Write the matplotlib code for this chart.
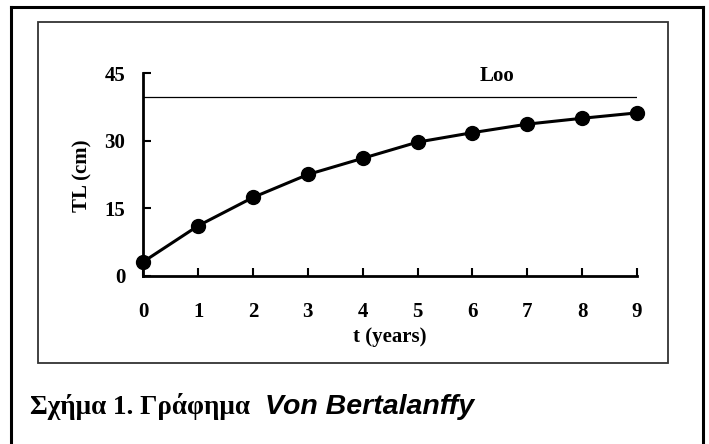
import matplotlib.pyplot as plt
from matplotlib.lines import Line2D
from matplotlib.patches import Rectangle

# data
t_years = [0, 1, 2, 3, 4, 5, 6, 7, 8, 9]
tl_cm = [3.1, 11.1, 17.4, 22.5, 26.1, 29.7, 31.8, 33.7, 35.0, 36.2]
l_inf = 39.7
y_ticks = [0, 15, 30, 45]

W, H = 709, 444
fig = plt.figure(figsize=(W / 100, H / 100), dpi=100)


def px(x, y):
    # pixel coords (top-left origin) -> figure fraction
    return x / W, 1 - y / H


# outer border (top, left, right)
for xs, ys in [([11, 703], [7, 7]), ([11, 11], [7, 444]), ([703, 703], [7, 444])]:
    fig.add_artist(Line2D([x / W for x in xs], [1 - y / H for y in ys],
                          color='black', lw=2.2, transform=fig.transFigure))

# inner frame
x0, y0 = px(38, 363)
fig.add_artist(Rectangle((x0, y0), (668 - 38) / W, (363 - 22) / H, fill=False,
                         ec='#333333', lw=1.3, transform=fig.transFigure))

# axes
left, bottom = px(143.3, 275.7)
ax = fig.add_axes([left, bottom, (637 - 143.3) / W, (275.7 - 73.3) / H])
ax.plot(t_years, tl_cm, color='black', lw=2.2, marker='o', ms=10, clip_on=False)
ax.plot([t_years[0], t_years[-1]], [l_inf, l_inf], color='black', lw=0.9)
ax.text(6.44, 44.5, 'Loo', ha='center', va='center', fontsize=15,
        family='Liberation Serif', fontweight='bold')

ax.set_xlim(0, 9)
ax.set_ylim(0, 45)
ax.set_xticks(t_years)
ax.set_yticks(y_ticks)
ax.spines['top'].set_visible(False)
ax.spines['right'].set_visible(False)
ax.spines['left'].set_linewidth(2)
ax.spines['bottom'].set_linewidth(2)
ax.tick_params(axis='both', direction='in', width=1.5, length=6)
ax.tick_params(axis='x', pad=19)
ax.tick_params(axis='y', pad=13)
for lab in ax.get_xticklabels() + ax.get_yticklabels():
    lab.set_fontfamily('Liberation Serif')
    lab.set_fontweight('bold')
    lab.set_fontsize(15)

ax.set_xlabel('t (years)', family='Liberation Serif', fontweight='bold', fontsize=15)
ax.xaxis.set_label_coords(0.5, -(337 - 275.7) / 202.4)
ax.xaxis.label.set_va('center')
ax.set_ylabel('TL (cm)', family='Liberation Serif', fontweight='bold', fontsize=15)
ax.yaxis.set_label_coords((82 - 143.3) / 493.7, (275.7 - 176) / 202.4)
ax.yaxis.label.set_va('center')

# caption
cx, cy = px(30, 414)
fig.text(cx, cy, 'Σχήμα 1. Γράφημα', ha='left', va='baseline', fontsize=19.5,
         family='Liberation Serif', fontweight='bold')
cx, cy = px(265, 414)
fig.text(cx, cy, 'Von Bertalanffy', ha='left', va='baseline', fontsize=20.5,
         family='Liberation Sans', fontweight='bold', style='italic')

fig.savefig('out.png', dpi=100)
